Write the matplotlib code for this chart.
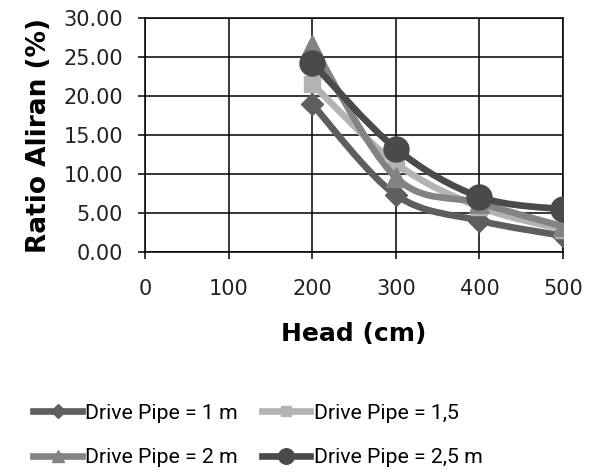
import matplotlib
matplotlib.use('Agg')
import matplotlib.pyplot as plt
from matplotlib.path import Path
from matplotlib.patches import PathPatch
from matplotlib.lines import Line2D
import numpy as np

head = [200, 300, 400, 500]
s_1m = [19.0, 7.35, 4.05, 2.1]
s_15 = [21.6, 11.4, 5.8, 2.9]
s_2m = [26.6, 9.6, 6.3, 3.3]
s_25m = [24.3, 13.3, 7.1, 5.5]
labels = ['Drive Pipe = 1 m', 'Drive Pipe = 1,5', 'Drive Pipe = 2 m', 'Drive Pipe = 2,5 m']

colors = ['#5e5e5e', '#b3b3b3', '#838383', '#4a4a4a']
markers = ['D', 's', '^', 'o']
msizes = [11, 12, 15, 18]


def smooth_path(x, y):
    # excel-like smoothed line: cubic bezier with catmull-rom control points
    x = np.asarray(x, float)
    y = np.asarray(y, float)
    verts = [(x[0], y[0])]
    codes = [Path.MOVETO]
    n = len(x)
    for i in range(n - 1):
        i0 = max(i - 1, 0)
        i3 = min(i + 2, n - 1)
        c1 = (x[i] + (x[i + 1] - x[i0]) / 6, y[i] + (y[i + 1] - y[i0]) / 6)
        c2 = (x[i + 1] - (x[i3] - x[i]) / 6, y[i + 1] - (y[i3] - y[i]) / 6)
        verts += [c1, c2, (x[i + 1], y[i + 1])]
        codes += [Path.CURVE4] * 3
    return Path(verts, codes)


fig = plt.figure(figsize=(5.97, 4.74), dpi=100)
ax = fig.add_axes([0.243, 0.468, 0.7, 0.493])

series = [s_1m, s_15, s_2m, s_25m]
for k, ys in enumerate(series):
    patch = PathPatch(smooth_path(head, ys), facecolor='none', edgecolor=colors[k],
                      lw=4.8, capstyle='round', joinstyle='round', zorder=3 + k)
    ax.add_patch(patch)
    ax.plot(head, ys, linestyle='none', marker=markers[k], ms=msizes[k],
            color=colors[k], mec=colors[k], zorder=3 + k)

ax.set_xlim(0, 500)
ax.set_ylim(0, 30)
ax.set_xticks([0, 100, 200, 300, 400, 500])
ax.set_yticks([0, 5, 10, 15, 20, 25, 30])
ax.set_yticklabels(['%.2f' % v for v in [0, 5, 10, 15, 20, 25, 30]])
ax.grid(True, color='black', lw=1.1)
ax.set_axisbelow(True)
for sp in ax.spines.values():
    sp.set_color('black')
    sp.set_linewidth(1.1)
ax.tick_params(direction='out', length=5, width=1.1, color='black',
               labelsize=15, labelcolor='#222222', pad=11)
ax.tick_params(axis='x', pad=14)

ax.set_xlabel('Head (cm)', fontsize=18, fontweight='bold', labelpad=17)
ax.set_ylabel('Ratio Aliran (%)', fontsize=19, fontweight='bold', labelpad=8)

handles = []
for k in range(4):
    handles.append(Line2D([], [], color=colors[k], lw=4.8, marker=markers[k],
                          ms=msizes[k] * 0.62, mec=colors[k]))
order = [0, 2, 1, 3]
fig.legend([handles[i] for i in order], [labels[i] for i in order],
           loc='center', bbox_to_anchor=(0.432, 0.081), ncol=2, frameon=False,
           prop={'family': 'Roboto', 'size': 15.3}, handlelength=2.3,
           handletextpad=0.15, columnspacing=1.1, labelspacing=1.2, borderpad=0)

fig.savefig('out.png', dpi=100)
